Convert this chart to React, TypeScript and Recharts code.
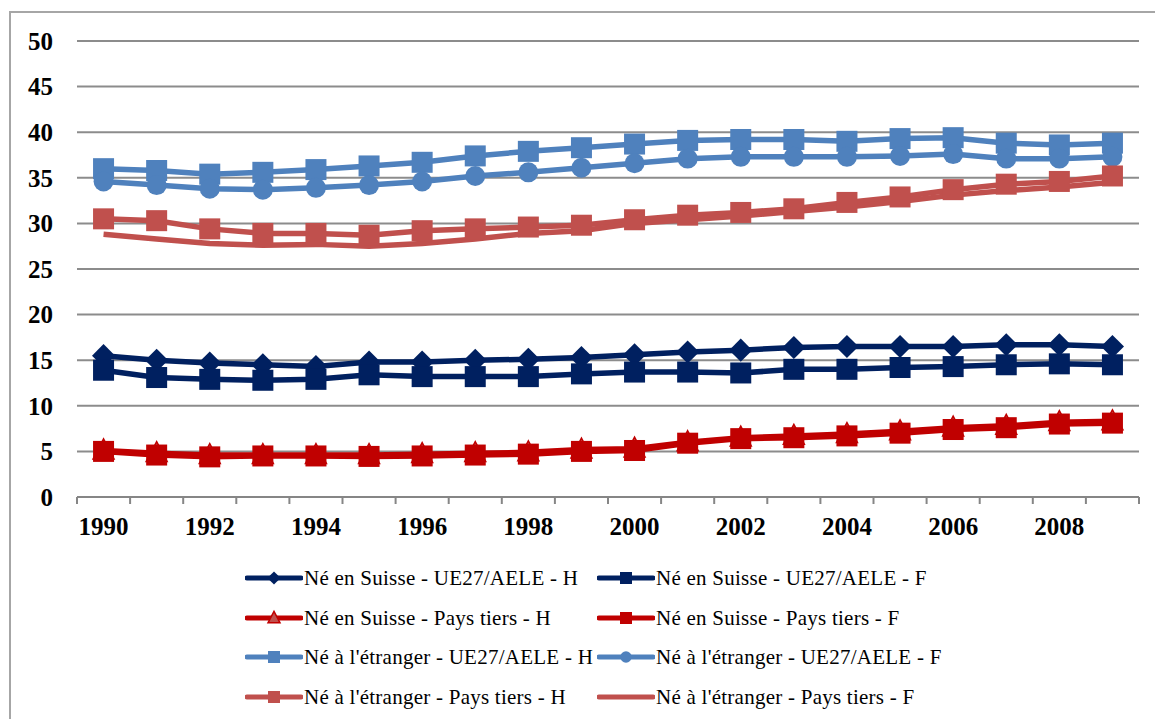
import React from "react";
import { LineChart, Line, XAxis, YAxis, CartesianGrid } from "recharts";

// ---- data ----
const years = ["1990", "1991", "1992", "1993", "1994", "1995", "1996", "1997", "1998", "1999", "2000", "2001", "2002", "2003", "2004", "2005", "2006", "2007", "2008", "2009"];
const yTicks = [0, 5, 10, 15, 20, 25, 30, 35, 40, 45, 50];

const suisseUeH = [15.5, 15.0, 14.7, 14.5, 14.3, 14.8, 14.8, 15.0, 15.1, 15.3, 15.6, 15.9, 16.1, 16.4, 16.5, 16.5, 16.5, 16.7, 16.7, 16.5];
const suisseUeF = [13.9, 13.1, 12.9, 12.8, 12.9, 13.4, 13.2, 13.2, 13.2, 13.5, 13.7, 13.7, 13.6, 14.0, 14.0, 14.2, 14.3, 14.5, 14.6, 14.5];
const suisseTiersH = [5.1, 4.8, 4.6, 4.6, 4.6, 4.6, 4.7, 4.8, 4.9, 5.2, 5.3, 6.0, 6.5, 6.7, 6.9, 7.2, 7.6, 7.8, 8.2, 8.3];
const suisseTiersF = [5.0, 4.6, 4.4, 4.5, 4.5, 4.45, 4.5, 4.6, 4.7, 5.0, 5.1, 5.9, 6.4, 6.5, 6.7, 7.0, 7.4, 7.6, 8.0, 8.1];
const etrUeH = [36.0, 35.8, 35.4, 35.6, 35.9, 36.3, 36.7, 37.4, 37.9, 38.3, 38.7, 39.1, 39.2, 39.2, 39.0, 39.3, 39.4, 38.8, 38.6, 38.8];
const etrUeF = [34.6, 34.2, 33.8, 33.7, 33.9, 34.2, 34.6, 35.2, 35.6, 36.1, 36.6, 37.1, 37.3, 37.3, 37.3, 37.4, 37.6, 37.1, 37.1, 37.3];
const etrTiersH = [30.5, 30.3, 29.4, 28.9, 28.9, 28.7, 29.2, 29.4, 29.6, 29.8, 30.4, 30.9, 31.2, 31.6, 32.3, 32.9, 33.7, 34.3, 34.6, 35.2];
const etrTiersF = [28.8, 28.3, 27.8, 27.6, 27.7, 27.5, 27.8, 28.3, 28.9, 29.2, 30.0, 30.4, 30.8, 31.3, 31.8, 32.4, 33.1, 33.6, 34.0, 34.5];

const seriesNames = [
  "Né en Suisse - UE27/AELE - H",
  "Né en Suisse - UE27/AELE - F",
  "Né en Suisse - Pays tiers - H",
  "Né en Suisse - Pays tiers - F",
  "Né à l'étranger - UE27/AELE - H",
  "Né à l'étranger - UE27/AELE - F",
  "Né à l'étranger - Pays tiers - H",
  "Né à l'étranger - Pays tiers - F",
];

// ---- styles ----
const NAVY = "#002060";
const RED = "#C00000";
const BLUE = "#4F81BD";
const LRED = "#C0504D";
const FONT = "'Liberation Serif', 'Times New Roman', serif";

type Shape = "diamond" | "square" | "triangle" | "circle" | "none";
const seriesStyles: { color: string; shape: Shape; fill?: string }[] = [
  { color: NAVY, shape: "diamond" },
  { color: NAVY, shape: "square" },
  { color: RED, shape: "triangle", fill: LRED },
  { color: RED, shape: "square" },
  { color: BLUE, shape: "square" },
  { color: BLUE, shape: "circle" },
  { color: LRED, shape: "square" },
  { color: LRED, shape: "none" },
];
const seriesValues = [suisseUeH, suisseUeF, suisseTiersH, suisseTiersF, etrUeH, etrUeF, etrTiersH, etrTiersF];

const data = years.map((y, i) => {
  const row: Record<string, any> = { year: y };
  seriesValues.forEach((vals, s) => {
    row["s" + s] = vals[i];
  });
  return row;
});

// ---- layout ----
const W = 1155;
const CHART_H = 545;
const PLOT_LEFT = 77;
const MARGIN_RIGHT = 16;
const MARGIN_TOP = 41;
const PLOT_W = W - PLOT_LEFT - MARGIN_RIGHT;
const HALF = PLOT_W / years.length / 2;

function Marker({ shape, cx, cy, size, color, fill }: { shape: Shape; cx: number; cy: number; size: number; color: string; fill?: string }) {
  const h = size / 2;
  if (shape === "square") return <rect x={cx - h} y={cy - h} width={size} height={size} fill={color} />;
  if (shape === "circle") return <circle cx={cx} cy={cy} r={h * 0.95} fill={color} />;
  if (shape === "diamond")
    return <polygon points={`${cx},${cy - h * 1.1} ${cx + h * 1.1},${cy} ${cx},${cy + h * 1.1} ${cx - h * 1.1},${cy}`} fill={color} />;
  if (shape === "triangle")
    return (
      <polygon
        points={`${cx},${cy - h * 1.1} ${cx + h},${cy + h * 0.8} ${cx - h},${cy + h * 0.8}`}
        fill={fill || color}
        stroke={color}
        strokeWidth={1.5}
      />
    );
  return null;
}

function XTick(props: any) {
  const { x, y, payload, index } = props;
  const last = years.length - 1;
  return (
    <g>
      <line x1={x - HALF} x2={x - HALF} y1={y} y2={y + 7} stroke="#868686" strokeWidth={2} />
      {index === last && <line x1={x + HALF} x2={x + HALF} y1={y} y2={y + 7} stroke="#868686" strokeWidth={2} />}
      {index % 2 === 0 && (
        <text x={x} y={y + 38} textAnchor="middle" fontFamily={FONT} fontWeight="bold" fontSize={25} fill="#000">
          {payload.value}
        </text>
      )}
    </g>
  );
}

function LegendItem({ idx }: { idx: number }) {
  const st = seriesStyles[idx];
  return (
    <div style={{ display: "flex", alignItems: "center", height: 24 }}>
      <svg width={58} height={24} style={{ display: "block" }}>
        <line x1={2} x2={56} y1={12} y2={12} stroke={st.color} strokeWidth={5} strokeLinecap="round" />
        <Marker shape={st.shape} cx={29} cy={12} size={12} color={st.color} fill={st.fill} />
      </svg>
      <span style={{ fontFamily: FONT, fontSize: 21, letterSpacing: 0.25, color: "#000", whiteSpace: "nowrap", marginLeft: 1 }}>
        {seriesNames[idx]}
      </span>
    </div>
  );
}

export default function App() {
  const rowTops = [566, 606, 645, 685];
  return (
    <div style={{ position: "absolute", left: 0, top: 0, width: W, height: 719, background: "#fff", overflow: "hidden" }}>
      <div
        style={{
          position: "absolute",
          left: 9,
          top: 11,
          width: W,
          height: 719,
          borderLeft: "2px solid #a6a6a6",
          borderTop: "2px solid #a6a6a6",
        }}
      />
      <div style={{ position: "absolute", left: 0, top: 0 }}>
        <LineChart width={W} height={CHART_H} data={data} margin={{ top: MARGIN_TOP, right: MARGIN_RIGHT, bottom: 0, left: 0 }}>
          <CartesianGrid vertical={false} stroke="#8c8c8c" strokeWidth={2} />
          <XAxis
            dataKey="year"
            interval={0}
            height={48}
            padding={{ left: HALF, right: HALF }}
            axisLine={{ stroke: "#868686", strokeWidth: 2 }}
            tickLine={false}
            tickSize={0}
            tickMargin={0}
            tick={<XTick />}
          />
          <YAxis
            width={PLOT_LEFT}
            domain={[0, 50]}
            ticks={yTicks}
            axisLine={false}
            tickLine={false}
            tickSize={0}
            tickMargin={24}
            tick={{ fontFamily: FONT, fontSize: 25, fontWeight: "bold", fill: "#000" }}
          />
          {seriesStyles.map((st, s) => (
            <Line
              key={"s" + s}
              dataKey={"s" + s}
              type="linear"
              stroke={st.color}
              strokeWidth={5.5}
              isAnimationActive={false}
              activeDot={false}
              dot={
                st.shape === "none"
                  ? false
                  : (p: any) => (
                      <Marker key={`d${s}-${p.index}`} shape={st.shape} cx={p.cx} cy={p.cy} size={21} color={st.color} fill={st.fill} />
                    )
              }
            />
          ))}
        </LineChart>
      </div>
      {rowTops.map((top, r) => (
        <React.Fragment key={r}>
          <div style={{ position: "absolute", left: 245, top }}>
            <LegendItem idx={r * 2} />
          </div>
          <div style={{ position: "absolute", left: 597, top }}>
            <LegendItem idx={r * 2 + 1} />
          </div>
        </React.Fragment>
      ))}
    </div>
  );
}
